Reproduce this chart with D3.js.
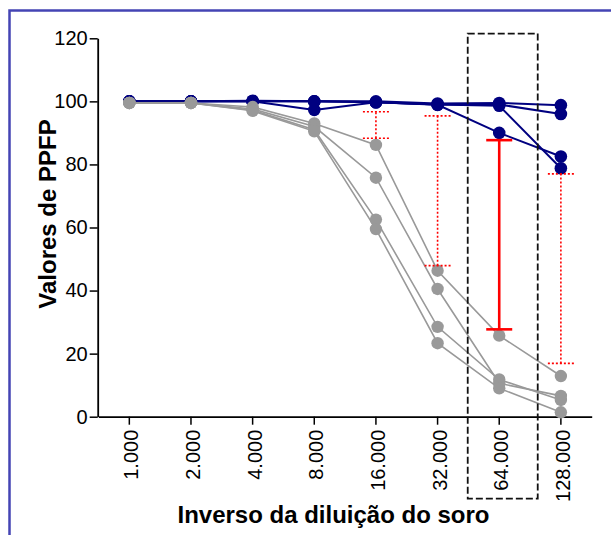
<!DOCTYPE html>
<html>
<head>
<meta charset="utf-8">
<script src="https://cdn.jsdelivr.net/npm/d3@7"></script>
<style>
  body { margin: 0; background: #fff; }
  svg { display: block; font-family: "Liberation Sans", Arial, sans-serif; }
</style>
</head>
<body>
<svg id="chart"></svg>
<script>
// dilution categories (x axis)
const dilutions = ["1.000", "2.000", "4.000", "8.000", "16.000", "32.000", "64.000", "128.000"];
const yTicks = [0, 20, 40, 60, 80, 100, 120];

// navy series (4 sera)
const navy1 = [100, 100, 100, 100, 100, 99.3, 99.5, 98.8];
const navy2 = [100, 100, 100, 97.3, 99.7, 99, 99, 96];
const navy3 = [100, 100, 100, 100, 99.7, 98.9, 90, 82.5];
const navy4 = [100, 100, 100.2, 100, 99.7, 99, 98.6, 78.8];

// gray series (4 sera)
const gray1 = [99.5, 99.5, 98.2, 93, 86.2, 46.3, 25.7, 12.9];
const gray2 = [99.5, 99.5, 97.6, 92, 75.8, 40.5, 10.6, 6.6];
const gray3 = [99.5, 99.5, 97.2, 91, 62.5, 28.5, 11.8, 5.3];
const gray4 = [99.5, 99.5, 97, 90.5, 59.5, 23.3, 9.0, 1.4];

// red error bars: [category index, low, high, solid?]
const errIdx = [4, 5, 6, 7];
const errLow = [88.3, 47.9, 27.7, 16.9];
const errHigh = [96.7, 95.4, 87.7, 77];
const errSolid = [false, false, true, false];

const width = 611, height = 535;
const svg = d3.select("#chart").attr("width", width).attr("height", height);

// outer blue frame (runs off the picture on right and bottom)
svg.append("rect")
    .attr("x", 9.5).attr("y", 10.5)
    .attr("width", 800).attr("height", 800)
    .attr("fill", "none")
    .attr("stroke", "#4444b4")
    .attr("stroke-width", 2.5);

const x = d3.scaleBand()
    .domain(dilutions)
    .range([98.5, 591.7])
    .paddingInner(0).paddingOuter(0);

const y = d3.scaleLinear()
    .domain([0, 120])
    .range([416.7, 38.3]);

const cx = (i) => x(dilutions[i]) + x.bandwidth() / 2;

// axes
const xAxis = svg.append("g")
    .attr("transform", `translate(0,${y(0)})`)
    .call(d3.axisBottom(x).tickSize(8).tickSizeOuter(0));
xAxis.select(".domain").attr("stroke", "#000").attr("stroke-width", 1.8);
xAxis.selectAll(".tick line").attr("stroke", "#000").attr("stroke-width", 1.5);
xAxis.selectAll(".tick text")
    .attr("transform", "rotate(-90)")
    .attr("x", -13).attr("y", 0)
    .attr("dy", "0.45em")
    .style("text-anchor", "end")
    .attr("font-size", 20)
    .attr("font-family", "Liberation Sans, Arial, sans-serif")
    .attr("fill", "#000");

const yAxis = svg.append("g")
    .attr("transform", `translate(${x.range()[0] - 0.8},0)`)
    .call(d3.axisLeft(y).tickValues(yTicks).tickSize(8).tickPadding(2).tickSizeOuter(0));
yAxis.select(".domain").attr("stroke", "#000").attr("stroke-width", 1.8);
yAxis.selectAll(".tick line").attr("stroke", "#000").attr("stroke-width", 1.5);
yAxis.selectAll(".tick text")
    .attr("font-size", 20)
    .attr("font-family", "Liberation Sans, Arial, sans-serif")
    .attr("fill", "#000");

// axis titles
svg.append("text")
    .attr("x", 333.5).attr("y", 523)
    .attr("text-anchor", "middle")
    .attr("font-size", 24).attr("font-weight", "bold")
    .text("Inverso da diluição do soro");

svg.append("text")
    .attr("transform", "translate(56,214) rotate(-90)")
    .attr("text-anchor", "middle")
    .attr("font-size", 24).attr("font-weight", "bold")
    .text("Valores de PPFP");

const line = d3.line()
    .x((d, i) => cx(i))
    .y(d => y(d));

function drawSeries(list, color, lw, r) {
  const g = svg.append("g");
  list.forEach(s => {
    g.append("path")
        .datum(s)
        .attr("d", line)
        .attr("fill", "none")
        .attr("stroke", color)
        .attr("stroke-width", lw);
  });
  list.forEach(s => {
    g.selectAll(null)
        .data(s)
        .enter().append("circle")
        .attr("cx", (d, i) => cx(i))
        .attr("cy", d => y(d))
        .attr("r", r)
        .attr("fill", color);
  });
}

drawSeries([navy1, navy2, navy3, navy4], "#000080", 2, 6.3);
drawSeries([gray1, gray2, gray3, gray4], "#999999", 1.6, 6.2);

// error bars
const eg = svg.append("g");
errIdx.forEach((idx, k) => {
  const xc = cx(idx);
  const dash = errSolid[k] ? null : "2,2";
  const sw = errSolid[k] ? 2.6 : 1.6;
  const capW = errSolid[k] ? 13 : 13;
  eg.append("line")
      .attr("x1", xc).attr("x2", xc)
      .attr("y1", y(errLow[k])).attr("y2", y(errHigh[k]))
      .attr("stroke", "#ff0000").attr("stroke-width", sw)
      .attr("stroke-dasharray", dash);
  [errLow[k], errHigh[k]].forEach(v => {
    eg.append("line")
        .attr("x1", xc - capW).attr("x2", xc + capW)
        .attr("y1", y(v)).attr("y2", y(v))
        .attr("stroke", "#ff0000").attr("stroke-width", sw)
        .attr("stroke-dasharray", dash);
  });
});

// dashed highlight box around 64.000
const bx = cx(6);
svg.append("rect")
    .attr("x", bx - 31.5).attr("y", y(121.5))
    .attr("width", 70).attr("height", y(0) + 82 - y(121.5))
    .attr("fill", "none")
    .attr("stroke", "#111")
    .attr("stroke-width", 1.8)
    .attr("stroke-dasharray", "7,3");
</script>
</body>
</html>
